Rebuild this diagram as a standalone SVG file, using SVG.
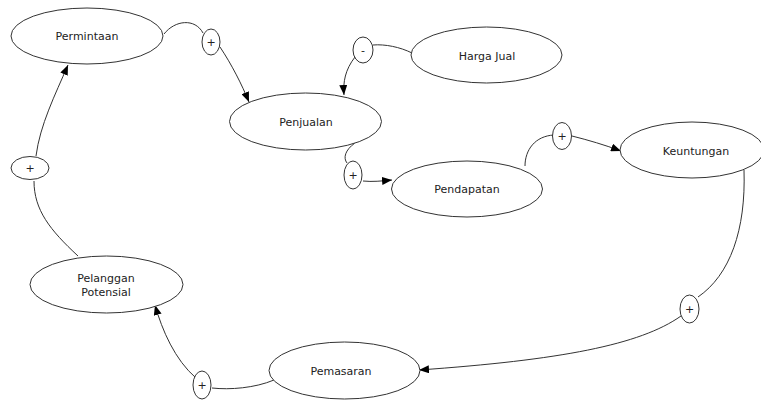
<svg xmlns="http://www.w3.org/2000/svg" width="761" height="401" viewBox="0 0 761 401">
<defs>
<marker id="arr" markerWidth="10" markerHeight="8" refX="10" refY="4" orient="auto" markerUnits="userSpaceOnUse">
<path d="M0,0 L10,4 L0,8 z" fill="#000"/>
</marker>
<style>
.node{fill:#fff;stroke:#333;stroke-width:1}
.pol{fill:#fff;stroke:#333;stroke-width:1}
.lbl{font-family:"DejaVu Sans",Verdana,sans-serif;font-size:11px;fill:#222;text-anchor:middle}
.sgn{font-family:"DejaVu Sans",Verdana,sans-serif;font-size:11px;fill:#222;text-anchor:middle}
.c{fill:none;stroke:#333;stroke-width:1}
.a{marker-end:url(#arr)}
</style>
</defs>
<rect width="761" height="401" fill="#fff"/>
<g id="connectors">
<path class="c" d="M164,34 C175,20 195,18 203,33"/>
<path class="c a" d="M220,47 C232,65 242,85 249,102"/>
<path class="c" d="M412,53 C400,47 385,44 373,45"/>
<path class="c a" d="M355,57 C345,70 343,82 344,95"/>
<path class="c" d="M355,143 C345,150 343,158 347,163"/>
<path class="c a" d="M363,181 C372,182 382,181 392,180"/>
<path class="c" d="M525,166 C525,150 535,136 554,135"/>
<path class="c a" d="M572,136 C588,140 605,145 621,151"/>
<path class="c" d="M744,170 C746,230 730,275 698,297"/>
<path class="c a" d="M681,316 C640,345 560,360 419,370"/>
<path class="c" d="M274,380 C255,388 230,390 212,388"/>
<path class="c a" d="M196,378 C175,360 162,330 155,305"/>
<path class="c" d="M78,256 C50,230 34,210 34,181"/>
<path class="c a" d="M36,156 C40,125 55,95 68,65"/>
</g>
<g id="permintaan"><ellipse class="node" cx="87" cy="36" rx="76" ry="28"/><text class="lbl" x="87" y="40">Permintaan</text></g>
<g id="penjualan"><ellipse class="node" cx="305.5" cy="121.5" rx="76" ry="28.5"/><text class="lbl" x="306" y="126">Penjualan</text></g>
<g id="harga-jual"><ellipse class="node" cx="486.5" cy="55" rx="75.5" ry="28"/><text class="lbl" x="487" y="60">Harga Jual</text></g>
<g id="pendapatan"><ellipse class="node" cx="467" cy="189" rx="75.5" ry="28"/><text class="lbl" x="467" y="193">Pendapatan</text></g>
<g id="keuntungan"><ellipse class="node" cx="692" cy="150" rx="72" ry="28"/><text class="lbl" x="696" y="155">Keuntungan</text></g>
<g id="pemasaran"><ellipse class="node" cx="344.5" cy="370.5" rx="75.5" ry="28.5"/><text class="lbl" x="341" y="375">Pemasaran</text></g>
<g id="pelanggan-potensial"><ellipse class="node" cx="106.5" cy="284.5" rx="76.5" ry="28.5"/><text class="lbl" x="106" y="282">Pelanggan</text><text class="lbl" x="106" y="296">Potensial</text></g>
<g id="pol-1"><ellipse class="pol" cx="211" cy="42" rx="9" ry="13"/><text class="sgn" x="211" y="46">+</text></g>
<g id="pol-2"><ellipse class="pol" cx="363" cy="50" rx="10" ry="13"/><text class="sgn" x="363" y="54">-</text></g>
<g id="pol-3"><ellipse class="pol" cx="353" cy="175" rx="9" ry="14"/><text class="sgn" x="353" y="179">+</text></g>
<g id="pol-4"><ellipse class="pol" cx="562" cy="136" rx="9.5" ry="13.5"/><text class="sgn" x="562" y="140">+</text></g>
<g id="pol-5"><ellipse class="pol" cx="689.5" cy="309" rx="9.5" ry="14"/><text class="sgn" x="689.5" y="313">+</text></g>
<g id="pol-6"><ellipse class="pol" cx="202" cy="385" rx="9" ry="14"/><text class="sgn" x="202" y="389">+</text></g>
<g id="pol-7"><ellipse class="pol" cx="30" cy="168" rx="19" ry="11.5"/><text class="sgn" x="30" y="172">+</text></g>
</svg>
